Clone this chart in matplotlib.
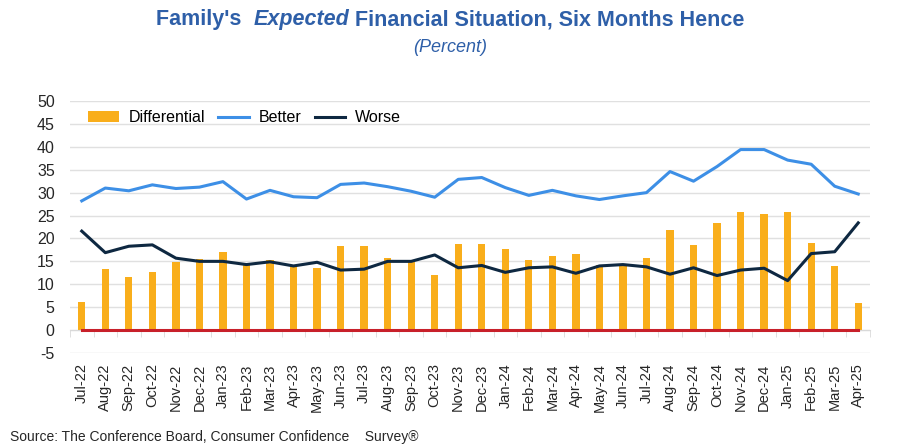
import matplotlib
matplotlib.use("Agg")
import matplotlib.pyplot as plt
import numpy as np

months = ["Jul-22", "Aug-22", "Sep-22", "Oct-22", "Nov-22", "Dec-22", "Jan-23", "Feb-23",
          "Mar-23", "Apr-23", "May-23", "Jun-23", "Jul-23", "Aug-23", "Sep-23", "Oct-23",
          "Nov-23", "Dec-23", "Jan-24", "Feb-24", "Mar-24", "Apr-24", "May-24", "Jun-24",
          "Jul-24", "Aug-24", "Sep-24", "Oct-24", "Nov-24", "Dec-24", "Jan-25", "Feb-25",
          "Mar-25", "Apr-25"]

differential = [6.2, 13.4, 11.5, 12.7, 14.8, 15.6, 17.0, 14.3, 15.2, 14.2, 13.6, 18.3,
                18.3, 15.7, 15.1, 12.0, 18.8, 18.8, 17.8, 15.3, 16.2, 16.5, 14.3, 14.2,
                15.7, 21.8, 18.6, 23.3, 25.8, 25.4, 25.8, 19.1, 13.9, 6.0]

better = [28.2, 31.0, 30.4, 31.7, 30.9, 31.2, 32.4, 28.6, 30.5, 29.1, 28.9, 31.8,
          32.1, 31.3, 30.3, 29.0, 32.9, 33.3, 31.1, 29.4, 30.5, 29.3, 28.5, 29.3,
          30.0, 34.6, 32.5, 35.7, 39.4, 39.4, 37.1, 36.2, 31.4, 29.7]

worse = [21.6, 16.9, 18.3, 18.6, 15.7, 15.0, 15.0, 14.3, 14.9, 14.0, 14.8, 13.1,
         13.3, 15.0, 15.0, 16.4, 13.6, 14.1, 12.6, 13.6, 13.8, 12.4, 14.0, 14.3,
         13.8, 12.2, 13.6, 11.9, 13.1, 13.5, 10.8, 16.7, 17.1, 23.4]

zero_line = [0] * len(months)

plt.rcParams["font.family"] = ["Liberation Sans", "DejaVu Sans"]
plt.rcParams["axes.unicode_minus"] = False

fig = plt.figure(figsize=(9, 4.48), dpi=100)
ax = fig.add_axes([70 / 900, 1 - 353 / 448, 800 / 900, 252 / 448])

x = np.arange(len(months))
bars = ax.bar(x, differential, width=0.31, color="#F9AE1B", label="Differential", zorder=2)
l_better, = ax.plot(x, better, color="#3D8FE6", lw=2.2, label="Better", zorder=3)
l_worse, = ax.plot(x, worse, color="#0E2841", lw=2.2, label="Worse", zorder=3)
ax.plot(x, zero_line, color="#C8202A", lw=2.2, zorder=4)

ax.set_xlim(-0.5, len(months) - 0.5)
ax.set_ylim(-5, 50)
ax.set_yticks(range(-5, 51, 5))
ax.grid(axis="y", color="#E0E0E0", lw=1, zorder=0)
ax.set_axisbelow(True)

for s in ["top", "right", "left"]:
    ax.spines[s].set_visible(False)
ax.spines["bottom"].set_position(("data", 0))
ax.spines["bottom"].set_color("#D9D9D9")

ax.set_xticks(x)
ax.set_xticklabels(months, rotation=90, fontsize=10.5, color="#262626")
ax.set_xticks(np.arange(-0.5, len(months), 1.0), minor=True)
ax.tick_params(axis="x", which="major", length=0, pad=24)
ax.tick_params(axis="x", which="minor", length=5, color="#D9D9D9")
ax.tick_params(axis="y", length=0, labelsize=11.5, labelcolor="#262626", pad=11)

ax.legend([bars, l_better, l_worse], ["Differential", "Better", "Worse"],
          loc="upper left", ncol=3, frameon=False, fontsize=11.5,
          bbox_to_anchor=(0.005, 1.02), handlelength=1.9, columnspacing=0.8,
          handletextpad=0.65)

# title in three pieces so "Expected" can be bold italic
title_color = "#2E5FA8"
title_y = 1 - 20 / 448
pieces = [("Family's  ", "normal"), ("Expected", "italic"),
          (" Financial Situation, Six Months Hence", "normal")]
renderer = fig.canvas.get_renderer()
texts = []
for txt, st in pieces:
    t = fig.text(0, title_y, txt, ha="left", va="center", fontsize=15.5,
                 fontweight="bold", style=st, color=title_color)
    texts.append(t)
widths = [t.get_window_extent(renderer).width for t in texts]
x0 = (900 - sum(widths)) / 2
for t, w in zip(texts, widths):
    t.set_x(x0 / 900)
    x0 += w

fig.text(0.5, 1 - 48 / 448, "(Percent)", ha="center", va="center", fontsize=13,
         style="italic", color=title_color)
fig.text(10 / 900, 1 - 437 / 448, "Source: The Conference Board, Consumer Confidence    Survey\u00ae",
         ha="left", va="center", fontsize=10, color="#262626")

fig.savefig("out.png", dpi=100)
